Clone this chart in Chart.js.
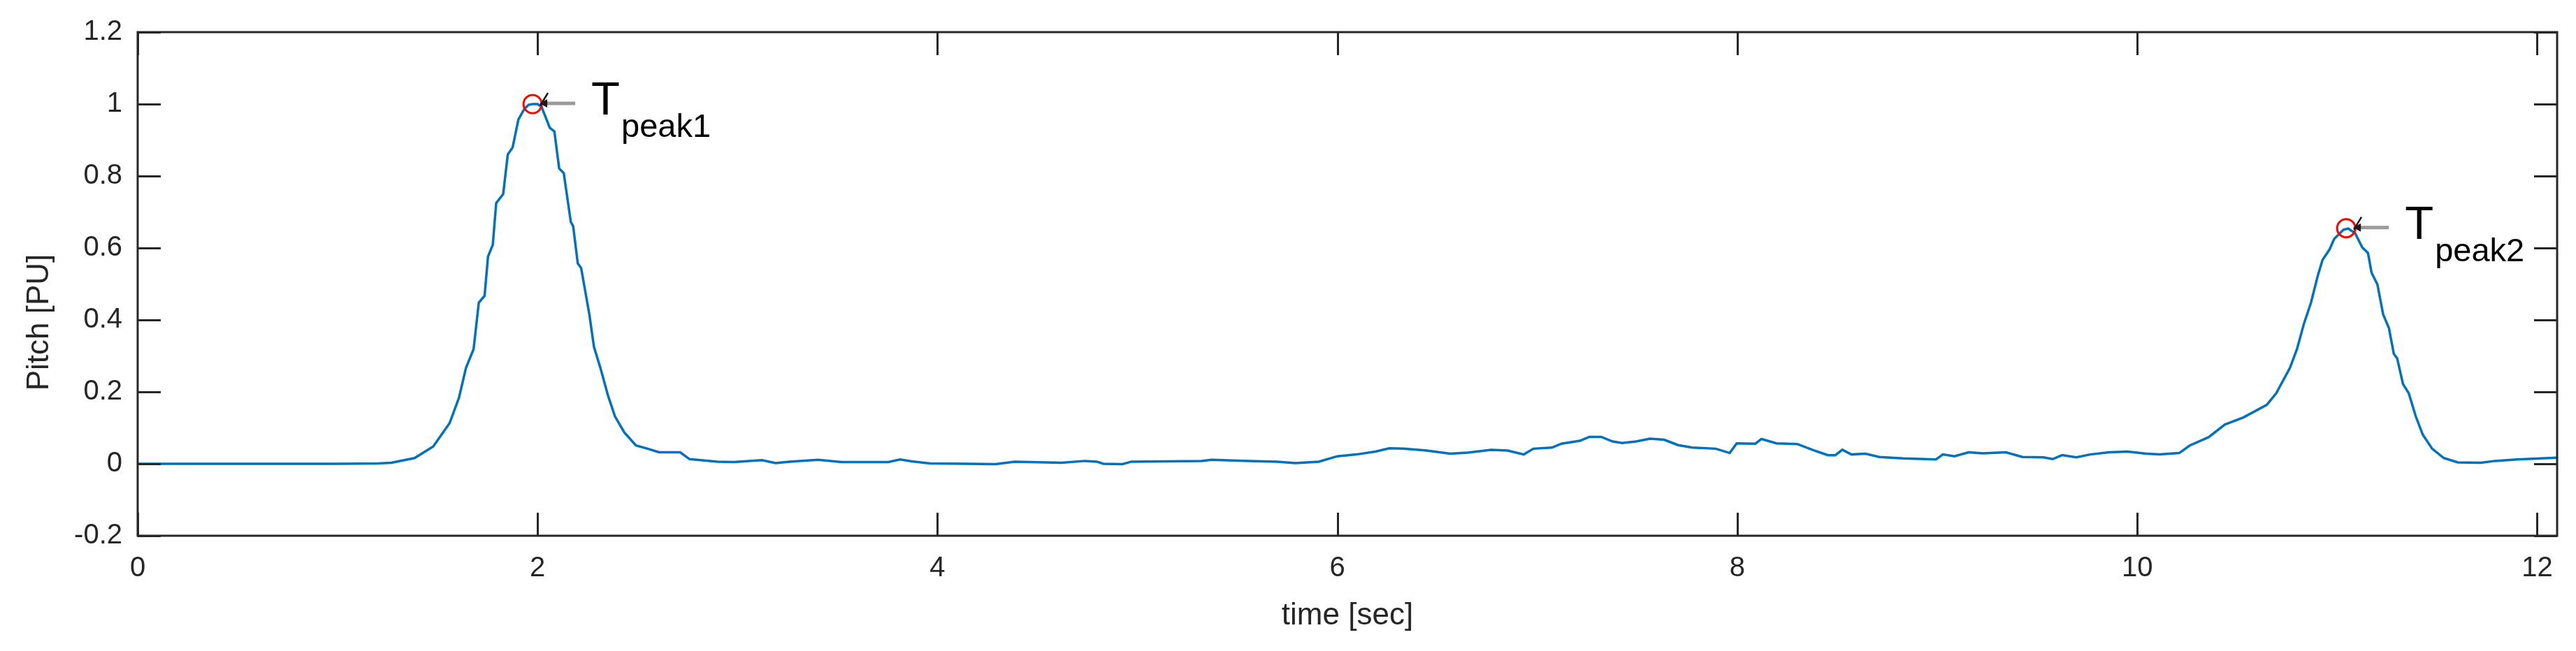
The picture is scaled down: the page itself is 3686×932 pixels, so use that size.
<!DOCTYPE html>
<html><head><meta charset="utf-8">
<script src="https://cdn.jsdelivr.net/npm/chart.js@4.4.1/dist/chart.umd.min.js"></script>
<style>html,body{margin:0;padding:0;background:#fff;overflow:hidden;} canvas{display:block;}</style>
</head><body>
<canvas id="c" width="3686" height="932"></canvas>
<script>
const timeSec = [0,0.5,1.0,1.2,1.269,1.385,1.478,1.56,1.607,1.642,1.68,1.706,1.735,1.752,1.776,1.793,1.828,1.851,1.875,1.904,1.933,1.955,1.975,2.0,2.02,2.061,2.084,2.108,2.131,2.166,2.178,2.201,2.218,2.259,2.282,2.317,2.352,2.387,2.434,2.492,2.55,2.608,2.713,2.76,2.9,2.981,3.122,3.19,3.26,3.403,3.52,3.754,3.813,3.871,3.964,4.152,4.29,4.386,4.62,4.737,4.796,4.83,4.925,4.97,5.32,5.37,5.557,5.697,5.79,5.907,6.0,6.095,6.19,6.26,6.33,6.446,6.564,6.652,6.769,6.851,6.932,6.98,7.073,7.12,7.213,7.26,7.319,7.377,7.424,7.494,7.564,7.634,7.704,7.775,7.892,7.962,7.997,8.09,8.121,8.196,8.3,8.384,8.454,8.49,8.525,8.571,8.641,8.71,8.83,8.993,9.028,9.086,9.157,9.227,9.343,9.426,9.531,9.577,9.624,9.695,9.765,9.859,9.952,10.045,10.112,10.21,10.263,10.357,10.438,10.531,10.648,10.695,10.764,10.799,10.834,10.869,10.904,10.927,10.962,10.985,11.032,11.055,11.09,11.125,11.154,11.172,11.201,11.23,11.259,11.283,11.3,11.329,11.358,11.393,11.428,11.475,11.533,11.603,11.719,11.789,11.9,12.1];
const pitchPU = [0,0,0,0.001,0.003,0.016,0.048,0.113,0.184,0.267,0.319,0.448,0.467,0.576,0.609,0.725,0.75,0.86,0.879,0.957,0.986,0.998,1.0,1.0,0.992,0.934,0.924,0.821,0.808,0.673,0.66,0.557,0.544,0.415,0.325,0.261,0.19,0.132,0.087,0.051,0.042,0.032,0.032,0.013,0.006,0.005,0.01,0.002,0.006,0.011,0.005,0.005,0.012,0.007,0.001,0,-0.001,0.006,0.003,0.008,0.006,0,-0.001,0.006,0.008,0.011,0.008,0.006,0.002,0.006,0.021,0.026,0.034,0.043,0.042,0.037,0.028,0.031,0.039,0.037,0.026,0.042,0.045,0.056,0.064,0.075,0.075,0.062,0.058,0.062,0.07,0.067,0.052,0.045,0.042,0.03,0.057,0.056,0.069,0.057,0.055,0.037,0.024,0.024,0.039,0.026,0.028,0.019,0.015,0.012,0.026,0.021,0.032,0.029,0.032,0.019,0.018,0.013,0.024,0.018,0.026,0.032,0.034,0.028,0.026,0.03,0.051,0.074,0.109,0.129,0.164,0.196,0.267,0.319,0.39,0.448,0.525,0.567,0.596,0.625,0.651,0.654,0.641,0.602,0.586,0.531,0.499,0.415,0.377,0.306,0.293,0.222,0.196,0.132,0.081,0.042,0.016,0.004,0.003,0.008,0.012,0.017];
const peakTime = [1.975, 11.045];
const peakPitch = [1.0, 0.655];
const peakLabels = ['peak1', 'peak2'];
const xTickValues = [0, 2, 4, 6, 8, 10, 12];
const yTickValues = [-0.2, 0, 0.2, 0.4, 0.6, 0.8, 1, 1.2];
const xRange = [0, 12.1];
const yRange = [-0.2, 1.2];
const xTitle = 'time [sec]';
const yTitle = 'Pitch [PU]';

const FONT = "'Liberation Sans', Arial, Helvetica, sans-serif";
const AX = '#262626';

const linePoints = timeSec.map((t, i) => ({x: t, y: pitchPU[i]}));
const peakPoints = peakTime.map((t, i) => ({x: t, y: peakPitch[i]}));

const boxPlugin = {
  id: 'matlabBox',
  afterDraw(chart) {
    const {ctx, chartArea: a, scales: {x, y}} = chart;
    ctx.save();
    ctx.strokeStyle = AX;
    ctx.lineWidth = 3;
    const TL = 33;
    ctx.beginPath();
    xTickValues.forEach(v => {
      const px = Math.round(x.getPixelForValue(v)) + 0.5;
      ctx.moveTo(px, a.bottom); ctx.lineTo(px, a.bottom - TL);
      ctx.moveTo(px, a.top); ctx.lineTo(px, a.top + TL);
    });
    yTickValues.forEach(v => {
      const py = Math.round(y.getPixelForValue(v)) + 0.5;
      ctx.moveTo(a.left, py); ctx.lineTo(a.left + TL, py);
      ctx.moveTo(a.right, py); ctx.lineTo(a.right - TL, py);
    });
    ctx.stroke();
    ctx.strokeRect(a.left, a.top, a.right - a.left, a.bottom - a.top);

    // y axis title (rotated)
    ctx.save();
    ctx.translate(57, (a.top + a.bottom) / 2 + 55);
    ctx.rotate(-Math.PI / 2);
    ctx.fillStyle = AX;
    ctx.font = '44px ' + FONT;
    ctx.textAlign = 'center';
    ctx.textBaseline = 'middle';
    ctx.fillText(yTitle, 0, 0);
    ctx.restore();

    // peak annotations
    peakTime.forEach((t, i) => {
      const px = x.getPixelForValue(t);
      const py = y.getPixelForValue(peakPitch[i]);
      ctx.strokeStyle = '#9a9a9a';
      ctx.lineWidth = 5;
      ctx.beginPath();
      ctx.moveTo(px + 14, py - 1); ctx.lineTo(px + 61, py - 1);
      ctx.stroke();
      ctx.strokeStyle = '#1a1a1a';
      ctx.lineWidth = 2.5;
      ctx.beginPath();
      ctx.moveTo(px + 22, py - 16); ctx.lineTo(px + 11, py + 2);
      ctx.stroke();
      ctx.fillStyle = '#1a1a1a';
      ctx.beginPath();
      ctx.moveTo(px + 10, py - 1); ctx.lineTo(px + 21, py - 7); ctx.lineTo(px + 21, py + 5);
      ctx.closePath(); ctx.fill();
      ctx.fillStyle = '#000';
      ctx.textBaseline = 'alphabetic';
      ctx.textAlign = 'left';
      ctx.font = '67px ' + FONT;
      ctx.fillText('T', px + 84, py + 15);
      ctx.font = '47px ' + FONT;
      ctx.fillText(peakLabels[i], px + 127, py + 47);
    });
    ctx.restore();
  }
};

new Chart(document.getElementById('c'), {
  type: 'line',
  data: {
    datasets: [
      {
        type: 'scatter',
        data: peakPoints,
        showLine: false,
        pointRadius: 13,
        pointHoverRadius: 13,
        pointBorderWidth: 3,
        pointBorderColor: '#ff0000',
        pointBackgroundColor: 'rgba(0,0,0,0)',
        borderColor: '#ff0000',
        backgroundColor: 'rgba(0,0,0,0)'
      },
      {
        data: linePoints,
        borderColor: '#0072BD',
        borderWidth: 3.5,
        pointRadius: 0,
        tension: 0,
        fill: false
      }
    ]
  },
  options: {
    responsive: false,
    devicePixelRatio: 1,
    animation: false,
    events: [],
    layout: {padding: {left: 0, right: 27, top: 42, bottom: 0}},
    plugins: {legend: {display: false}, tooltip: {enabled: false}},
    scales: {
      x: {
        type: 'linear',
        min: xRange[0], max: xRange[1],
        afterBuildTicks: s => { s.ticks = xTickValues.map(v => ({value: v})); },
        afterFit: s => { s.height = 165; },
        grid: {display: false, drawTicks: false},
        border: {display: false},
        ticks: {
          padding: 23,
          color: AX,
          font: {family: FONT, size: 40},
          maxRotation: 0, autoSkip: false,
          callback: v => String(v)
        },
        title: {
          display: true, text: xTitle, color: AX,
          font: {family: FONT, size: 44},
          padding: {top: 0, bottom: 24}
        }
      },
      y: {
        type: 'linear',
        min: yRange[0], max: yRange[1],
        afterBuildTicks: s => { s.ticks = yTickValues.map(v => ({value: v})); },
        afterFit: s => { s.width = 197; },
        grid: {display: false, drawTicks: false},
        border: {display: false},
        ticks: {
          padding: 22,
          color: AX,
          font: {family: FONT, size: 40},
          autoSkip: false,
          callback: v => String(v)
        },
        title: {display: false}
      }
    }
  },
  plugins: [boxPlugin]
});
</script>
</body></html>
